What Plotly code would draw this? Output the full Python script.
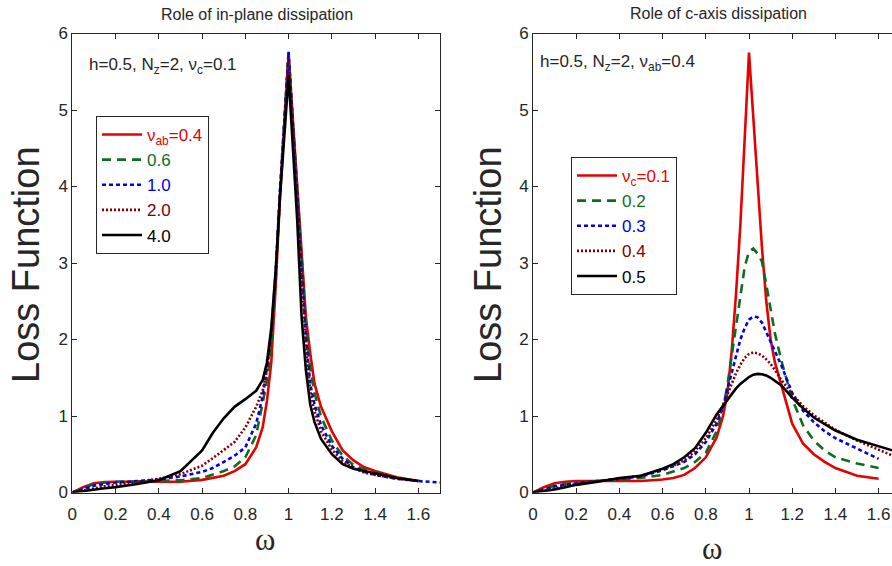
import plotly.graph_objects as go

# ---------------- data ----------------
omega = [0, 0.05, 0.1, 0.15, 0.2, 0.3, 0.4, 0.5, 0.6, 0.65, 0.7, 0.75, 0.8, 0.85, 0.88,
         0.9, 0.92, 0.94, 0.96, 0.98, 1.0, 1.02, 1.04, 1.06, 1.08, 1.1, 1.12, 1.15,
         1.2, 1.25, 1.3, 1.35, 1.4, 1.5, 1.6, 1.7]

# Left panel: vary nu_ab (nu_c = 0.1)
left_labels = ["ν<sub>ab</sub>=0.4", "0.6", "1.0", "2.0", "4.0"]
left_ab04 = [0, 0.07, 0.12, 0.135, 0.14, 0.14, 0.135, 0.14, 0.165, 0.19, 0.22, 0.28, 0.37, 0.59, 0.85,
             1.2, 1.7, 2.68, 3.85, 4.8, 5.73, 4.86, 4.0, 3.07, 2.29, 1.82, 1.42, 1.12,
             0.8, 0.55, 0.42, 0.33, 0.28, 0.2, 0.15, None]
left_ab06 = [0, 0.06, 0.11, 0.13, 0.14, 0.145, 0.15, 0.16, 0.19, 0.23, 0.28, 0.34, 0.46, 0.75, 1.16,
             1.45, 1.9, 2.75, 3.9, 4.85, 5.75, 4.85, 3.95, 3.0, 2.2, 1.62, 1.3, 0.99,
             0.68, 0.48, 0.36, 0.3, 0.26, 0.19, 0.15, None]
left_ab10 = [0, 0.05, 0.09, 0.11, 0.13, 0.15, 0.17, 0.21, 0.27, 0.32, 0.4, 0.48, 0.59, 0.9, 1.25,
             1.64, 2.1, 2.85, 3.95, 4.9, 5.76, 4.8, 3.85, 2.9, 2.05, 1.42, 1.15, 0.88,
             0.61, 0.44, 0.33, 0.27, 0.23, 0.18, 0.15, 0.13]
left_ab20 = [0, 0.03, 0.06, 0.08, 0.1, 0.14, 0.18, 0.24, 0.35, 0.45, 0.55, 0.66, 0.85, 1.12, 1.33,
             1.6, 2.05, 2.8, 3.9, 4.85, 5.7, 4.75, 3.75, 2.75, 1.9, 1.32, 1.06, 0.8,
             0.56, 0.41, 0.32, 0.26, 0.23, 0.18, 0.15, None]
left_ab40 = [0, 0.02, 0.04, 0.055, 0.07, 0.11, 0.16, 0.28, 0.55, 0.78, 0.97, 1.12, 1.22, 1.33, 1.47,
             1.7, 2.15, 2.9, 3.85, 4.7, 5.45, 4.5, 3.55, 2.3, 1.6, 1.15, 0.92, 0.7,
             0.5, 0.37, 0.31, 0.28, 0.25, 0.19, 0.15, None]

# Right panel: vary nu_c (nu_ab = 0.4)
right_labels = ["ν<sub>c</sub>=0.1", "0.2", "0.3", "0.4", "0.5"]
right_c01 = [0, 0.07, 0.12, 0.14, 0.15, 0.15, 0.15, 0.15, 0.17, 0.19, 0.23, 0.32, 0.46, 0.72, 1.0,
             1.3, 1.85, 2.6, 3.5, 4.65, 5.75, 4.9, 4.0, 3.2, 2.5, 2.0, 1.7, 1.4,
             0.9, 0.64, 0.5, 0.4, 0.32, 0.22, 0.18, None]
right_c02 = [0, 0.05, 0.09, 0.11, 0.13, 0.15, 0.17, 0.19, 0.23, 0.27, 0.32, 0.4, 0.52, 0.8, 1.1,
             1.4, 1.8, 2.22, 2.62, 2.95, 3.15, 3.19, 3.12, 3.02, 2.72, 2.4, 2.08, 1.72,
             1.22, 0.88, 0.68, 0.55, 0.46, 0.38, 0.32, None]
right_c03 = [0, 0.04, 0.08, 0.1, 0.12, 0.15, 0.18, 0.21, 0.29, 0.34, 0.4, 0.5, 0.66, 0.9, 1.13,
             1.35, 1.57, 1.8, 2.0, 2.15, 2.26, 2.3, 2.29, 2.22, 2.1, 1.98, 1.85, 1.66,
             1.3, 1.07, 0.92, 0.8, 0.71, 0.58, 0.44, None]
right_c04 = [0, 0.03, 0.06, 0.09, 0.11, 0.15, 0.18, 0.22, 0.3, 0.35, 0.42, 0.54, 0.71, 0.95, 1.14,
             1.28, 1.42, 1.56, 1.67, 1.76, 1.81, 1.83, 1.82, 1.79, 1.74, 1.68, 1.6, 1.47,
             1.29, 1.13, 1.01, 0.91, 0.82, 0.68, 0.56, 0.44]
right_c05 = [0, 0.02, 0.04, 0.07, 0.1, 0.14, 0.19, 0.22, 0.31, 0.37, 0.46, 0.58, 0.78, 1.02, 1.13,
             1.21, 1.29, 1.36, 1.42, 1.47, 1.51, 1.54, 1.55, 1.545, 1.53, 1.5, 1.46, 1.4,
             1.24, 1.1, 0.98, 0.9, 0.81, 0.69, 0.6, 0.52]

x_ticks = [0, 0.2, 0.4, 0.6, 0.8, 1, 1.2, 1.4, 1.6]
y_ticks = [0, 1, 2, 3, 4, 5, 6]

# ---------------- styles ----------------
colors = ["#e60000", "#0b6e1f", "#0000e6", "#800000", "#000000"]
dashes = ["solid", "9px,6px", "4px,3px", "2px,2px", "solid"]
widths = [2.6, 2.6, 2.6, 2.6, 2.6]

W, H = 892, 566
def px(x):
    return x / W
def py(y):
    return 1 - y / H

fig = go.Figure()

left_series = [left_ab04, left_ab06, left_ab10, left_ab20, left_ab40]
right_series = [right_c01, right_c02, right_c03, right_c04, right_c05]

for i, ys in enumerate(left_series):
    fig.add_trace(go.Scatter(
        x=omega, y=ys, mode="lines", xaxis="x", yaxis="y", legend="legend",
        name='<span style="color:%s">%s</span>' % (colors[i], left_labels[i]),
        line=dict(color=colors[i], dash=dashes[i], width=widths[i]),
        connectgaps=False, showlegend=True))

for i, ys in enumerate(right_series):
    fig.add_trace(go.Scatter(
        x=omega, y=ys, mode="lines", xaxis="x2", yaxis="y2", legend="legend2",
        name='<span style="color:%s">%s</span>' % (colors[i], right_labels[i]),
        line=dict(color=colors[i], dash=dashes[i], width=widths[i]),
        connectgaps=False, showlegend=True))

axcol = "#262626"
tickfont = dict(family="Liberation Sans, Arial, sans-serif", size=17, color=axcol)

common_x = dict(tickmode="array", tickvals=x_ticks, ticks="inside", ticklen=5,
                tickcolor=axcol, showline=True, linecolor=axcol, linewidth=1,
                showgrid=False, zeroline=False, tickfont=tickfont, automargin=False,
                ticklabelstandoff=6)
common_y = dict(tickmode="array", tickvals=y_ticks, ticks="inside", ticklen=5,
                tickcolor=axcol, showline=True, linecolor=axcol, linewidth=1,
                showgrid=False, zeroline=False, tickfont=tickfont, range=[0, 6],
                automargin=False)

legend_common = dict(xanchor="left", yanchor="top", bordercolor=axcol, borderwidth=1,
                     bgcolor="white", itemwidth=40,
                     font=dict(size=17, family="Liberation Sans, Arial, sans-serif"),
                     itemclick=False, tracegroupgap=0)

fig.update_layout(
    width=W, height=H,
    margin=dict(l=0, r=0, t=0, b=0),
    paper_bgcolor="white", plot_bgcolor="white",
    font=dict(family="Liberation Sans, Arial, sans-serif", color=axcol, size=16),
    xaxis=dict(domain=[px(72.3), px(440)], range=[0, 1.7], mirror="ticks", anchor="y", **common_x),
    yaxis=dict(domain=[1 - 492.5 / H, 1 - 33.5 / H], mirror="ticks", anchor="x", **common_y),
    xaxis2=dict(domain=[px(533), 1.0], range=[0, 359 / 216], mirror="ticks", anchor="y2", **common_x),
    yaxis2=dict(domain=[1 - 492.5 / H, 1 - 33.5 / H], mirror=False, anchor="x2", **common_y),
    legend=dict(x=px(96), y=py(116), **legend_common),
    legend2=dict(x=px(571), y=py(157), **legend_common),
)

ann = []
# titles
ann.append(dict(text="Role of in-plane dissipation", x=px(257), y=py(15), xref="paper", yref="paper",
                showarrow=False, xanchor="center", yanchor="middle",
                font=dict(size=16, color=axcol)))
ann.append(dict(text="Role of c-axis dissipation", x=px(718), y=py(13), xref="paper", yref="paper",
                showarrow=False, xanchor="center", yanchor="middle",
                font=dict(size=16, color=axcol)))
# parameter texts
ann.append(dict(text="h=0.5, N<sub>z</sub>=2, ν<sub>c</sub>=0.1", x=px(87), y=py(66), xref="paper",
                yref="paper", showarrow=False, xanchor="left", yanchor="middle",
                font=dict(size=17, color=axcol)))
ann.append(dict(text="h=0.5, N<sub>z</sub>=2, ν<sub>ab</sub>=0.4", x=px(538), y=py(63), xref="paper",
                yref="paper", showarrow=False, xanchor="left", yanchor="middle",
                font=dict(size=17, color=axcol)))
# y-axis titles
for xc in (26, 488):
    ann.append(dict(text="Loss Function", x=px(xc), y=py(265), xref="paper", yref="paper",
                    showarrow=False, textangle=-90, xanchor="center", yanchor="middle",
                    font=dict(size=38, color=axcol)))
# x-axis titles
ann.append(dict(text="ω", x=px(265), y=py(539), xref="paper", yref="paper", showarrow=False,
                xanchor="center", yanchor="middle",
                font=dict(size=31, color=axcol, family="Liberation Serif, Times New Roman, serif")))
ann.append(dict(text="ω", x=px(712), y=py(548), xref="paper", yref="paper", showarrow=False,
                xanchor="center", yanchor="middle",
                font=dict(size=31, color=axcol, family="Liberation Serif, Times New Roman, serif")))

fig.update_layout(annotations=ann)

fig.write_html("out.html", config={"displayModeBar": False},
               post_script="document.body.style.margin='0px';"
                           "document.documentElement.style.overflow='hidden';")
